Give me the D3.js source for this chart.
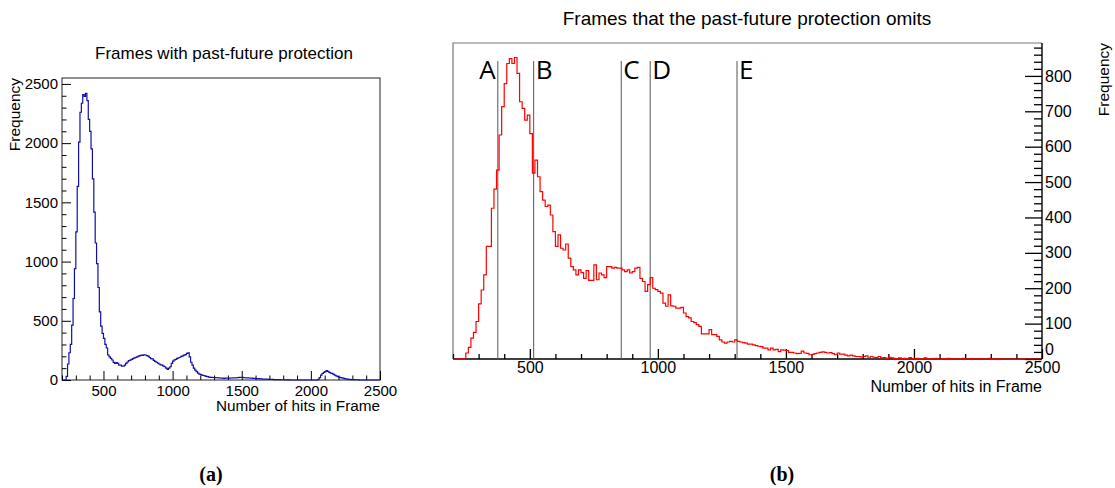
<!DOCTYPE html>
<html>
<head>
<meta charset="utf-8">
<script src="https://cdn.jsdelivr.net/npm/d3@7"></script>
<style>
  body { margin: 0; background: #fff; }
  svg { display: block; font-family: "Liberation Sans", Arial, sans-serif; }
</style>
</head>
<body>
<script>
// ---- data (bins of 10 hits, from 200 to 2500) ----
const xRange = [200, 2500];

// (a) frames with past-future protection
const withProtection = [
  0, 0, 0, 30, 135, 230, 300, 463, 688, 941,
  1250, 1635, 2008, 2261, 2337, 2410, 2395, 2421, 2359, 2200,
  2100, 1952, 1699, 1418, 1157, 983, 781, 576, 455, 393,
  351, 300, 270, 211, 196, 183, 169, 149, 140, 146,
  140, 126, 126, 118, 118, 126, 140, 152, 163, 168,
  174, 180, 186, 191, 196, 202, 206, 211, 208, 213,
  211, 205, 202, 190, 180, 178, 165, 158, 150, 142,
  135, 128, 126, 118, 112, 100, 90, 100, 112, 140,
  160, 170, 175, 182, 188, 192, 200, 204, 210, 215,
  225, 230, 196, 150, 125, 100, 84, 70, 58, 50,
  45, 42, 38, 34, 30, 28, 25, 23, 22, 21,
  20, 20, 19, 18, 17, 16, 15, 14, 15, 16,
  17, 16, 17, 18, 17, 18, 19, 20, 22, 21,
  22, 20, 19, 18, 18, 17, 16, 15, 14, 13,
  12, 11, 11, 10, 9, 8, 8, 7, 7, 6,
  6, 5, 5, 4, 4, 3, 3, 3, 2, 2,
  2, 1, 1, 1, 1, 0, 0, 0, 0, 0,
  0, 0, 0, 0, 0, 0, 0, 0, 0, 0,
  0, 0, 0, 0, 0, 5, 20, 42, 55, 65,
  70, 79, 72, 65, 58, 56, 48, 42, 35, 28,
  24, 20, 18, 15, 12, 10, 8, 6, 5, 4,
  3, 3, 2, 2, 1, 0, 0, 0, 0, 0,
  0, 0, 0, 0, 0, 0, 0, 0, 0, 0
];

// (b) frames that the past-future protection omits
const omitted = [
  0, 0, 0, 0, 0, 17, 33, 59, 75, 106,
  156, 195, 238, 318, 318, 426, 480, 534, 633, 713,
  778, 835, 849, 835, 852, 807, 727, 708, 675, 689,
  637, 525, 562, 515, 473, 449, 431, 435, 407, 360,
  318, 351, 313, 308, 325, 285, 261, 252, 238, 252,
  244, 228, 250, 222, 222, 266, 224, 243, 238, 230,
  261, 261, 257, 259, 257, 257, 252, 247, 252, 243,
  247, 257, 259, 228, 219, 191, 210, 230, 200, 196,
  191, 186, 158, 149, 181, 150, 149, 144, 144, 146,
  130, 120, 116, 106, 103, 97, 92, 71, 71, 71,
  83, 69, 69, 64, 54, 48, 45, 48, 50, 48,
  54, 50, 48, 46, 45, 42, 42, 40, 38, 36,
  35, 31, 31, 26, 31, 26, 27, 21, 26, 25,
  24, 19, 19, 17, 15, 16, 22, 17, 16, 12,
  13, 15, 17, 19, 20, 19, 17, 18, 15, 12,
  17, 14, 14, 11, 9, 11, 9, 7, 7, 6,
  7, 9, 5, 7, 5, 4, 7, 3, 4, 2,
  5, 3, 2, 0, 3, 1, 2, 0, 4, 1,
  0, 2, 0, 1, 3, 0, 1, 0, 2, 0,
  0, 1, 0, 2, 0, 0, 1, 0, 0, 2,
  0, 0, 1, 0, 0, 1, 0, 0, 0, 2,
  0, 0, 1, 0, 0, 0, 0, 0, 0, 0,
  0, 0, 0, 0, 0, 0, 0, 0, 0, 0
];

const markerLabels = ["A", "B", "C", "D", "E"];
const markerValues = [375, 515, 857, 970, 1309];

const xMajorTicks = [500, 1000, 1500, 2000, 2500];
const yTicksA = [0, 500, 1000, 1500, 2000, 2500];
const yTicksB = [0, 100, 200, 300, 400, 500, 600, 700, 800];

const svg = d3.select("body").append("svg")
  .attr("width", 1115)
  .attr("height", 488);

const fmt = d3.format("d");

function stepLine(values, x, y) {
  const w = (xRange[1] - xRange[0]) / values.length;
  const pts = values.map((v, i) => [xRange[0] + i * w, v]);
  pts.push([xRange[1], values[values.length - 1]]);
  return d3.line()
    .x(d => x(d[0]))
    .y(d => y(d[1]))
    .curve(d3.curveStepAfter)(pts);
}

const xMinor = d3.range(200, 2501, 100).filter(v => v % 500 !== 0);

// ---------- panel (a) ----------
{
  const x = d3.scaleLinear().domain(xRange).range([62, 380]);
  const y = d3.scaleLinear().domain([0, 2550]).range([380, 78]);

  // frame
  svg.append("rect")
    .attr("x", 62).attr("y", 78).attr("width", 318).attr("height", 302)
    .attr("fill", "none").attr("stroke", "#222").attr("stroke-width", 1);

  const yMinor = d3.range(0, 2550, 100).filter(v => v % 500 !== 0);

  svg.append("g").attr("class", "aax").attr("transform", "translate(62,0)")
    .call(d3.axisLeft(y).tickValues(yMinor).tickSizeInner(-4.5).tickSizeOuter(0).tickFormat(""))
    .call(g => g.select(".domain").remove());
  svg.append("g").attr("class", "aax").attr("transform", "translate(62,0)")
    .call(d3.axisLeft(y).tickValues(yTicksA).tickSizeInner(-9).tickSizeOuter(0).tickPadding(4).tickFormat(fmt))
    .call(g => g.select(".domain").remove())
    .selectAll("text").attr("font-size", 15).attr("fill", "#000")
    .attr("font-family", "Liberation Sans, Arial, sans-serif");

  svg.append("g").attr("class", "aax").attr("transform", "translate(0,380)")
    .call(d3.axisBottom(x).tickValues(xMinor).tickSizeInner(-4.5).tickSizeOuter(0).tickFormat(""))
    .call(g => g.select(".domain").remove());
  svg.append("g").attr("class", "aax").attr("transform", "translate(0,380)")
    .call(d3.axisBottom(x).tickValues(xMajorTicks).tickSizeInner(-9).tickSizeOuter(0).tickPadding(5).tickFormat(fmt))
    .call(g => g.select(".domain").remove())
    .selectAll("text").attr("font-size", 15).attr("fill", "#000")
    .attr("font-family", "Liberation Sans, Arial, sans-serif");

  svg.selectAll(".aax .tick line").attr("stroke", "#000");

  svg.append("path")
    .attr("d", stepLine(withProtection, x, y))
    .attr("fill", "none")
    .attr("stroke", "#1010a8")
    .attr("stroke-width", 1.2);

  svg.append("text").attr("x", 224).attr("y", 59)
    .attr("text-anchor", "middle").attr("font-size", 17)
    .text("Frames with past-future protection");
  svg.append("text").attr("x", 380).attr("y", 411)
    .attr("text-anchor", "end").attr("font-size", 15.3)
    .text("Number of hits in Frame");
  svg.append("text").attr("transform", "translate(20,78) rotate(-90)")
    .attr("text-anchor", "end").attr("font-size", 15.5)
    .text("Frequency");
  svg.append("text").attr("x", 211).attr("y", 481)
    .attr("text-anchor", "middle").attr("font-size", 20)
    .attr("font-weight", "bold").attr("font-family", "Liberation Serif, Times New Roman, serif")
    .text("(a)");
}

// ---------- panel (b) ----------
{
  const x = d3.scaleLinear().domain(xRange).range([453, 1042]);
  const y = d3.scaleLinear().domain([0, 893]).range([359, 43]);

  // frame: top and left grey
  svg.append("path")
    .attr("d", "M453,359V43H1042")
    .attr("fill", "none").attr("stroke", "#777").attr("stroke-width", 1.2);

  const yMinor = d3.range(0, 893, 20).filter(v => v % 100 !== 0);

  svg.append("g").attr("class", "bax").attr("transform", "translate(1042,0)")
    .call(d3.axisRight(y).tickValues(yMinor).tickSizeInner(-8).tickSizeOuter(0).tickFormat(""))
    .call(g => g.select(".domain").remove());
  svg.append("g").attr("class", "bax").attr("transform", "translate(1042,0)")
    .call(d3.axisRight(y).tickValues(yTicksB).tickSizeInner(-17).tickSizeOuter(0).tickPadding(3).tickFormat(fmt))
    .call(g => g.select(".domain").attr("d", "M0,43V359").attr("stroke", "#000").attr("stroke-width", 1.4))
    .call(g => g.selectAll(".tick text").filter(d => d === 0).attr("dy", "-0.3em"))
    .selectAll("text").attr("font-size", 16).attr("fill", "#000")
    .attr("font-family", "Liberation Sans, Arial, sans-serif");

  svg.append("g").attr("class", "bax").attr("transform", "translate(0,359)")
    .call(d3.axisBottom(x).tickValues(xMinor).tickSizeInner(-5).tickSizeOuter(0).tickFormat(""))
    .call(g => g.select(".domain").remove());
  svg.append("g").attr("class", "bax").attr("transform", "translate(0,359)")
    .call(d3.axisBottom(x).tickValues(xMajorTicks).tickSizeInner(-10).tickSizeOuter(0).tickPadding(3).tickFormat(fmt))
    .call(g => g.select(".domain").attr("d", "M453,0H1042").attr("stroke", "#000").attr("stroke-width", 1.4))
    .selectAll("text").attr("font-size", 16).attr("fill", "#000")
    .attr("font-family", "Liberation Sans, Arial, sans-serif");

  svg.selectAll(".bax .tick line").attr("stroke", "#000").attr("stroke-width", 1.3);

  // marker lines
  markerValues.forEach((v, i) => {
    svg.append("line")
      .attr("x1", x(v)).attr("x2", x(v))
      .attr("y1", 61).attr("y2", 359)
      .attr("stroke", "#555").attr("stroke-width", 1);
    svg.append("text")
      .attr("x", i === 0 ? x(v) - 2 : x(v) + 2)
      .attr("y", 79)
      .attr("text-anchor", i === 0 ? "end" : "start")
      .attr("font-size", 26)
      .attr("font-family", "Open Sans, Lato, sans-serif")
      .text(markerLabels[i]);
  });

  svg.append("path")
    .attr("d", stepLine(omitted, x, y))
    .attr("fill", "none")
    .attr("stroke", "#ff0000")
    .attr("stroke-width", 1.2);

  svg.append("text").attr("x", 747).attr("y", 25)
    .attr("text-anchor", "middle").attr("font-size", 19)
    .text("Frames that the past-future protection omits");
  svg.append("text").attr("x", 1042).attr("y", 392)
    .attr("text-anchor", "end").attr("font-size", 16)
    .text("Number of hits in Frame");
  svg.append("text").attr("transform", "translate(1109,43) rotate(-90)")
    .attr("text-anchor", "end").attr("font-size", 15.5)
    .text("Frequency");
  svg.append("text").attr("x", 782).attr("y", 481)
    .attr("text-anchor", "middle").attr("font-size", 20)
    .attr("font-weight", "bold").attr("font-family", "Liberation Serif, Times New Roman, serif")
    .text("(b)");
}
</script>
</body>
</html>
